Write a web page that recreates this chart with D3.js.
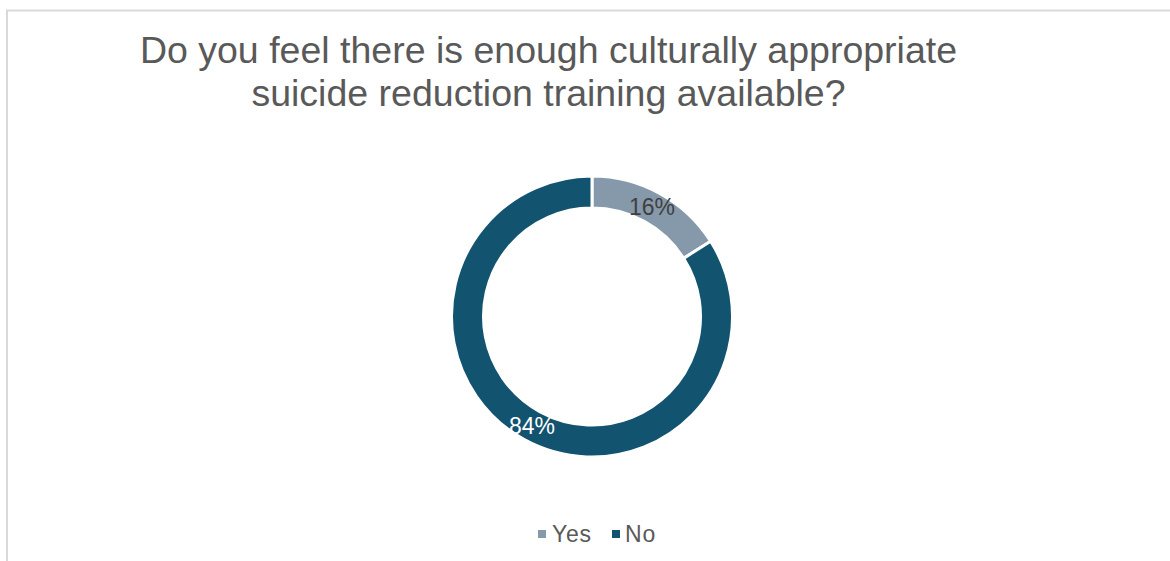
<!DOCTYPE html>
<html lang="en">
<head>
    <meta charset="UTF-8">
    <title>Culturally appropriate suicide reduction training</title>
    <script src="https://d3js.org/d3.v7.min.js"></script>
    <style>
        body { margin: 0; background: #fff; }
        svg { display: block; font-family: "Liberation Sans", Arial, sans-serif; }
    </style>
</head>
<body>
    <div id="chart"></div>

    <script>
        // Chart data
        const categories = ["Yes", "No"];
        const values = [16, 84];
        const colors = ["#8699ab", "#12536f"];
        const titleLines = [
            "Do you feel there is enough culturally appropriate",
            "suicide reduction training available?"
        ];

        const width = 1170;
        const height = 561;

        const svg = d3.select("#chart")
            .append("svg")
            .attr("width", width)
            .attr("height", height);

        // Chart frame
        svg.append("path")
            .attr("d", `M7,${height} V10.5 H${width}`)
            .attr("fill", "none")
            .attr("stroke", "#d9d9d9")
            .attr("stroke-width", 2);

        // Title
        svg.append("g")
            .selectAll("text")
            .data(titleLines)
            .join("text")
            .attr("x", 548.5)
            .attr("y", (d, i) => 63 + i * 43)
            .attr("text-anchor", "middle")
            .attr("font-size", 37.5)
            .attr("fill", "#595959")
            .text(d => d);

        // Donut
        const cx = 592, cy = 316.5;
        const outerR = 140.5, innerR = 108.5;

        const color = d3.scaleOrdinal().domain(categories).range(colors);

        const pie = d3.pie().sort(null).value(d => d.value);
        const arcs = pie(categories.map((c, i) => ({ name: c, value: values[i] })));

        const arc = d3.arc().innerRadius(innerR).outerRadius(outerR);

        const g = svg.append("g").attr("transform", `translate(${cx},${cy})`);

        g.selectAll("path")
            .data(arcs)
            .join("path")
            .attr("d", arc)
            .attr("fill", d => color(d.data.name))
            .attr("stroke", "#fff")
            .attr("stroke-width", 3);

        // Data labels
        g.selectAll("text")
            .data(arcs)
            .join("text")
            .attr("transform", d => `translate(${arc.centroid(d)})`)
            .attr("text-anchor", "middle")
            .attr("dy", "0.35em")
            .attr("font-size", 23)
            .attr("fill", (d, i) => i === 0 ? "#404040" : "#ffffff")
            .text(d => d.data.value + "%");

        // Legend
        const legend = svg.append("g").attr("transform", "translate(538,0)");
        const offsets = [0, 74];

        const item = legend.selectAll("g")
            .data(categories)
            .join("g")
            .attr("transform", (d, i) => `translate(${offsets[i]},0)`);

        item.append("rect")
            .attr("x", 0)
            .attr("y", 530)
            .attr("width", 8)
            .attr("height", 8)
            .attr("fill", d => color(d));

        item.append("text")
            .attr("x", (d, i) => i === 0 ? 14 : 13)
            .attr("y", 541.5)
            .attr("font-size", 23)
            .attr("letter-spacing", 0.8)
            .attr("fill", "#595959")
            .text(d => d);
    </script>
</body>
</html>
